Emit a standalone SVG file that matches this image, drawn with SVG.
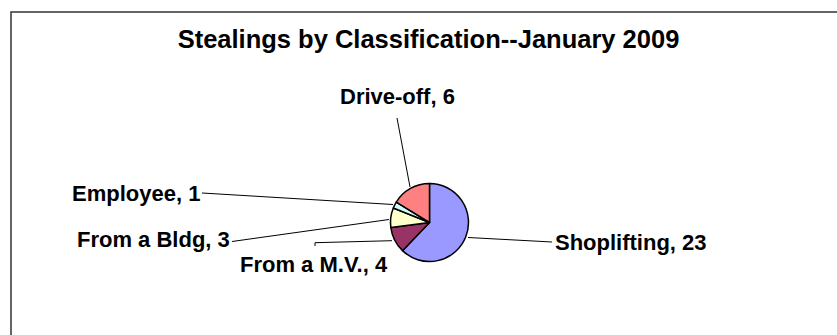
<svg xmlns="http://www.w3.org/2000/svg" width="837" height="335" viewBox="0 0 837 335">
<style>
.t{font-family:"Liberation Sans",Arial,sans-serif;font-weight:bold;fill:#000}
.lbl{font-size:22px}
.ttl{font-size:25.5px}
.lead{stroke:#000;stroke-width:1;fill:none}
.sl{stroke:#000;stroke-width:1.5;stroke-linejoin:round}
</style>
<rect x="0" y="0" width="837" height="335" fill="#fff"/>
<rect id="frame" x="11" y="12" width="900" height="400" fill="#fff" stroke="#333" stroke-width="1.5"/>
<text id="title" class="t ttl" x="428.5" y="47.5" text-anchor="middle">Stealings by Classification--January 2009</text>
<g id="pie">
<path id="shoplifting" class="sl" fill="#9999FF" d="M429.5,222.5 L429.5,183.5 A39,39 0 1,1 402.51,250.65 Z"/>
<path id="mv" class="sl" fill="#993366" d="M429.5,222.5 L402.51,250.65 A39,39 0 0,1 390.81,227.45 Z"/>
<path id="bldg" class="sl" fill="#FFFFCC" d="M429.5,222.5 L390.81,227.45 A39,39 0 0,1 393.31,207.96 Z"/>
<path id="employee" class="sl" fill="#CCFFFF" d="M429.5,222.5 L393.31,207.96 A39,39 0 0,1 396.29,202.05 Z"/>
<path id="driveoff" class="sl" fill="#FF8080" d="M429.5,222.5 L396.29,202.05 A39,39 0 0,1 429.5,183.5 Z"/>
</g>
<g id="connectors">
<line class="lead" x1="397" y1="118" x2="410" y2="187"/>
<line class="lead" x1="202" y1="193" x2="393" y2="204.5"/>
<line class="lead" x1="232" y1="241.5" x2="389" y2="219.5"/>
<polyline class="lead" points="315,246 315,242.7 392,240.7"/>
<line class="lead" x1="468" y1="237.5" x2="552" y2="242"/>
</g>
<g id="label-driveoff"><text class="t lbl" x="340" y="104">Drive-off, 6</text></g>
<g id="label-employee"><text class="t lbl" x="72" y="200.5">Employee, 1</text></g>
<g id="label-bldg"><text class="t lbl" x="77" y="247.3">From a Bldg, 3</text></g>
<g id="label-mv"><text class="t lbl" x="240" y="272.3">From a M.V., 4</text></g>
<g id="label-shoplifting"><text class="t lbl" x="555" y="250">Shoplifting, 23</text></g>
</svg>
